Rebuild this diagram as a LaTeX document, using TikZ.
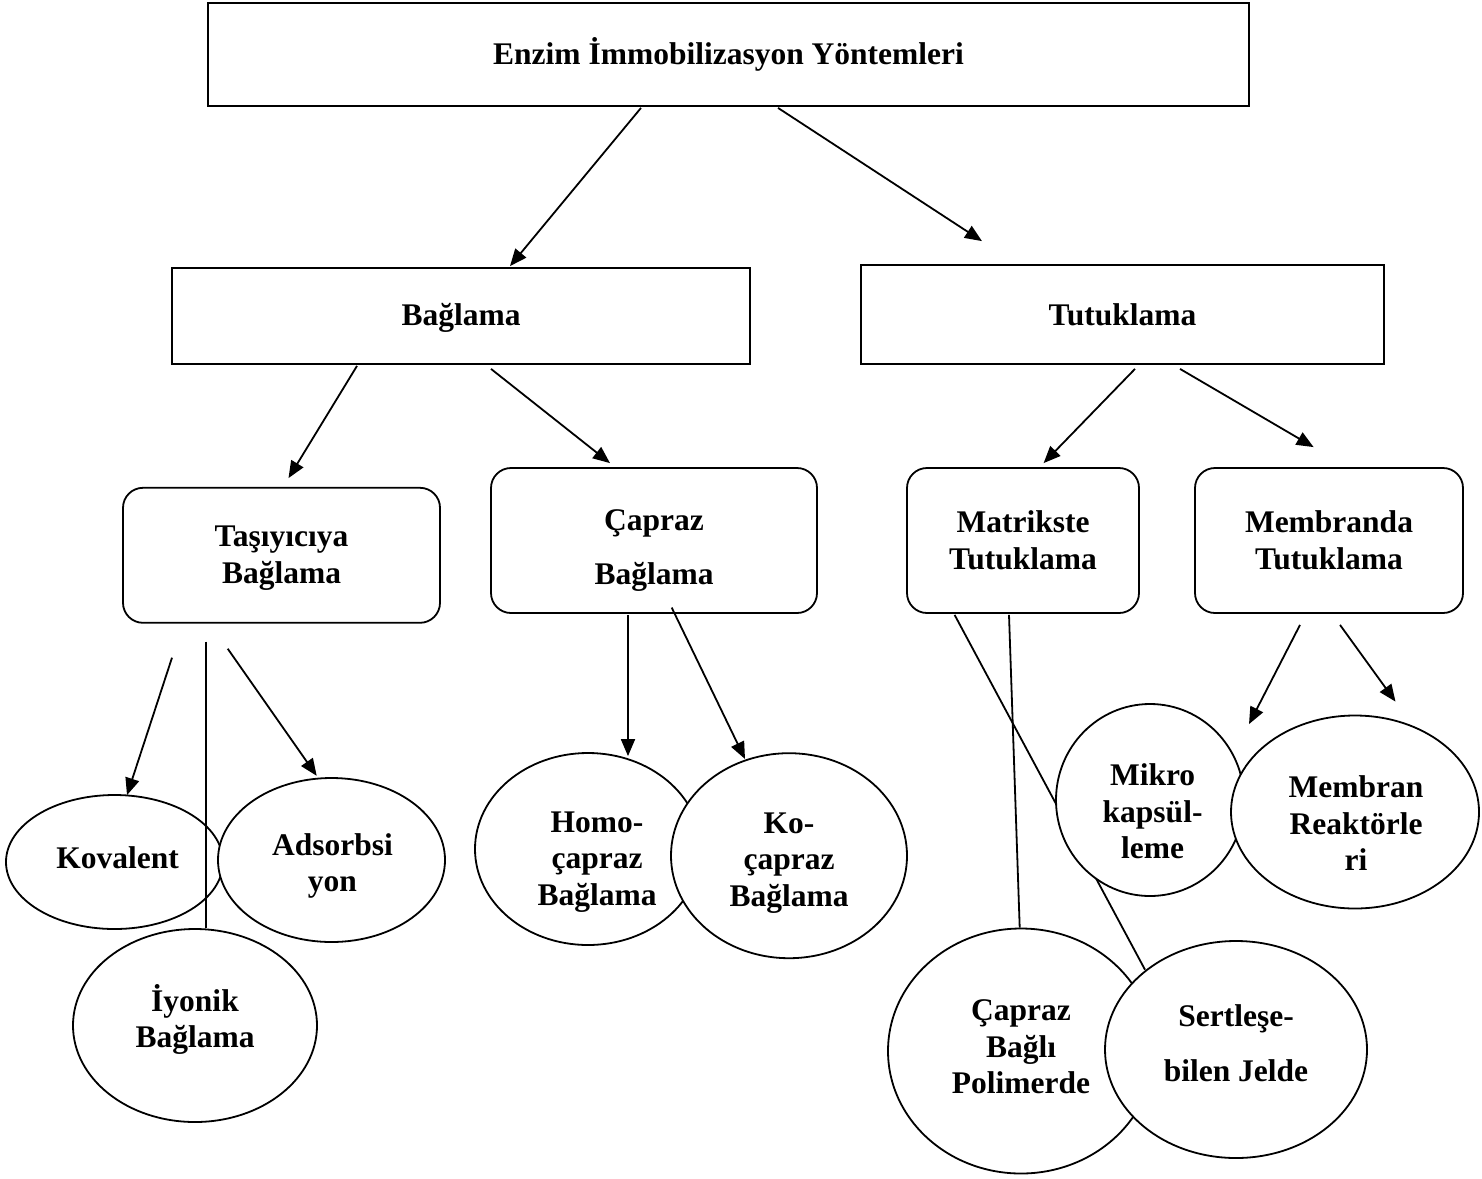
\documentclass[tikz,border=0pt]{standalone}
\usepackage{fontspec}
\setmainfont{Liberation Serif}
\usetikzlibrary{arrows.meta,shapes.geometric}
\newcommand\diafont{\fontsize{31.5}{36.5}\selectfont\bfseries}
\begin{document}
\begin{tikzpicture}[x=1pt,y=-1pt,
 base/.style={draw,line width=1.8pt,fill=white,inner sep=0pt},
 box/.style={base,rectangle},
 rbox/.style={base,rectangle,rounded corners=20pt},
 ell/.style={base,ellipse},
 txt/.style={font=\diafont,align=center,inner sep=0pt},
 arr/.style={line width=1.8pt,-{Triangle[length=17pt,width=14pt]}},
 ln/.style={line width=1.8pt}]
\useasboundingbox[fill=white] (0,0) rectangle (1482,1178);

% level 0 and 1
\node[box,minimum width=1041pt,minimum height=103pt,label={[txt]center:Enzim İmmobilizasyon Yöntemleri}] (top) at (728.5,54.5) {};
\node[box,minimum width=578pt,minimum height=96pt,label={[txt,yshift=-2pt]center:Bağlama}] (bag) at (461,316) {};
\node[box,minimum width=523pt,minimum height=99pt,label={[txt]center:Tutuklama}] (tut) at (1122.5,314.5) {};

% level 2
\node[rbox,minimum width=317pt,minimum height=135pt,label={[txt,yshift=-3pt]center:Taşıyıcıya\\Bağlama}] (tas) at (281.5,555.3) {};
\node[rbox,minimum width=326pt,minimum height=145pt,label={[txt,yshift=-10pt]center:Çapraz\\[17pt]Bağlama}] (cap) at (654,540.5) {};
\node[rbox,minimum width=232pt,minimum height=145pt,label={[txt]center:Matrikste\\Tutuklama}] (mat) at (1023,540.5) {};
\node[rbox,minimum width=268pt,minimum height=145pt,label={[txt]center:Membranda\\Tutuklama}] (mem) at (1329,540.5) {};

% level 3
\node[ell,minimum width=217pt,minimum height=134pt,label={[txt,xshift=3pt,yshift=4pt]center:Kovalent}] (kov) at (114.5,862) {};
\node[ell,minimum width=227pt,minimum height=164pt,label={[txt,xshift=1pt,yshift=-6pt]center:Adsorbsi\\yon}] (ads) at (331.5,860) {};
\node[ell,minimum width=244pt,minimum height=193pt,label={[txt,yshift=6pt]center:İyonik\\Bağlama}] (iyo) at (195,1025.5) {};
\node[ell,minimum width=226pt,minimum height=192pt,label={[txt,xshift=9pt,yshift=-13pt]center:Homo-\\çapraz\\Bağlama}] (homo) at (588,849) {};
\node[ell,minimum width=236pt,minimum height=205pt,label={[txt,yshift=-7pt]center:Ko-\\çapraz\\Bağlama}] (ko) at (789,855.7) {};
\node[ell,minimum width=266pt,minimum height=245pt,label={[txt,yshift=4pt]center:Çapraz\\Bağlı\\Polimerde}] (pol) at (1021,1051) {};
\node[ell,minimum width=262pt,minimum height=217pt,label={[txt,yshift=6.5pt]center:Sertleşe-\\[18pt]bilen Jelde}] (ser) at (1236,1049.5) {};

% lines from Matrikste (behind Mikro)
\draw[ln] ([xshift=-14pt,yshift=-1pt]mat.south) -- ([xshift=-1.3pt]pol.north);
\draw[ln] ([xshift=-68.4pt,yshift=-1pt]mat.south) -- ([xshift=-91pt,yshift=-29.6pt]ser.north);

\node[ell,minimum width=188pt,minimum height=192pt,label={[txt,xshift=2.6pt,yshift=-11.5pt]center:Mikro\\kapsül-\\leme}] (mik) at (1150,800) {};
\node[ell,minimum width=248pt,minimum height=193pt,label={[txt,xshift=1pt,yshift=-11.5pt]center:Membran\\Reaktörle\\ri}] (mbr) at (1355,812) {};

% connectors
\draw[arr] ([xshift=-87.5pt,yshift=-1pt]top.south) -- ([xshift=49pt,yshift=1pt]bag.north);
\draw[arr] ([xshift=49.5pt,yshift=-1pt]top.south) -- ([xshift=-140.5pt,yshift=23pt]tut.north);
\draw[arr] ([xshift=-104pt,yshift=-1pt]bag.south) -- ([xshift=7pt,yshift=8.8pt]tas.north);
\draw[arr] ([xshift=30pt,yshift=-4pt]bag.south) -- ([xshift=-44pt,yshift=4pt]cap.north);
\draw[arr] ([xshift=12.5pt,yshift=-4pt]tut.south) -- ([xshift=20.6pt,yshift=4pt]mat.north);
\draw[arr] ([xshift=57.5pt,yshift=-4pt]tut.south) -- ([xshift=-15.4pt,yshift=20pt]mem.north);
\draw[arr] ([xshift=-109.5pt,yshift=-34pt]tas.south) -- ([xshift=12.5pt,yshift=-1pt]kov.north);
\draw[ln] ([xshift=-75.8pt,yshift=-18pt]tas.south) -- ([xshift=10.7pt]iyo.north);
\draw[arr] ([xshift=-53.8pt,yshift=-25pt]tas.south) -- ([xshift=-14.8pt,yshift=1.3pt]ads.north);
\draw[arr] ([xshift=-26pt,yshift=-1pt]cap.south) -- ([xshift=40pt,yshift=-4pt]homo.north);
\draw[arr] ([xshift=17.7pt,yshift=6.3pt]cap.south) -- ([xshift=-44pt,yshift=-6.7pt]ko.north);
\draw[arr] ([xshift=-29pt,yshift=-11pt]mem.south) -- ([xshift=99pt,yshift=-21pt]mik.north);
\draw[arr] ([xshift=11pt,yshift=-11pt]mem.south) -- ([xshift=40.5pt,yshift=13pt]mbr.north);
\end{tikzpicture}
\end{document}
